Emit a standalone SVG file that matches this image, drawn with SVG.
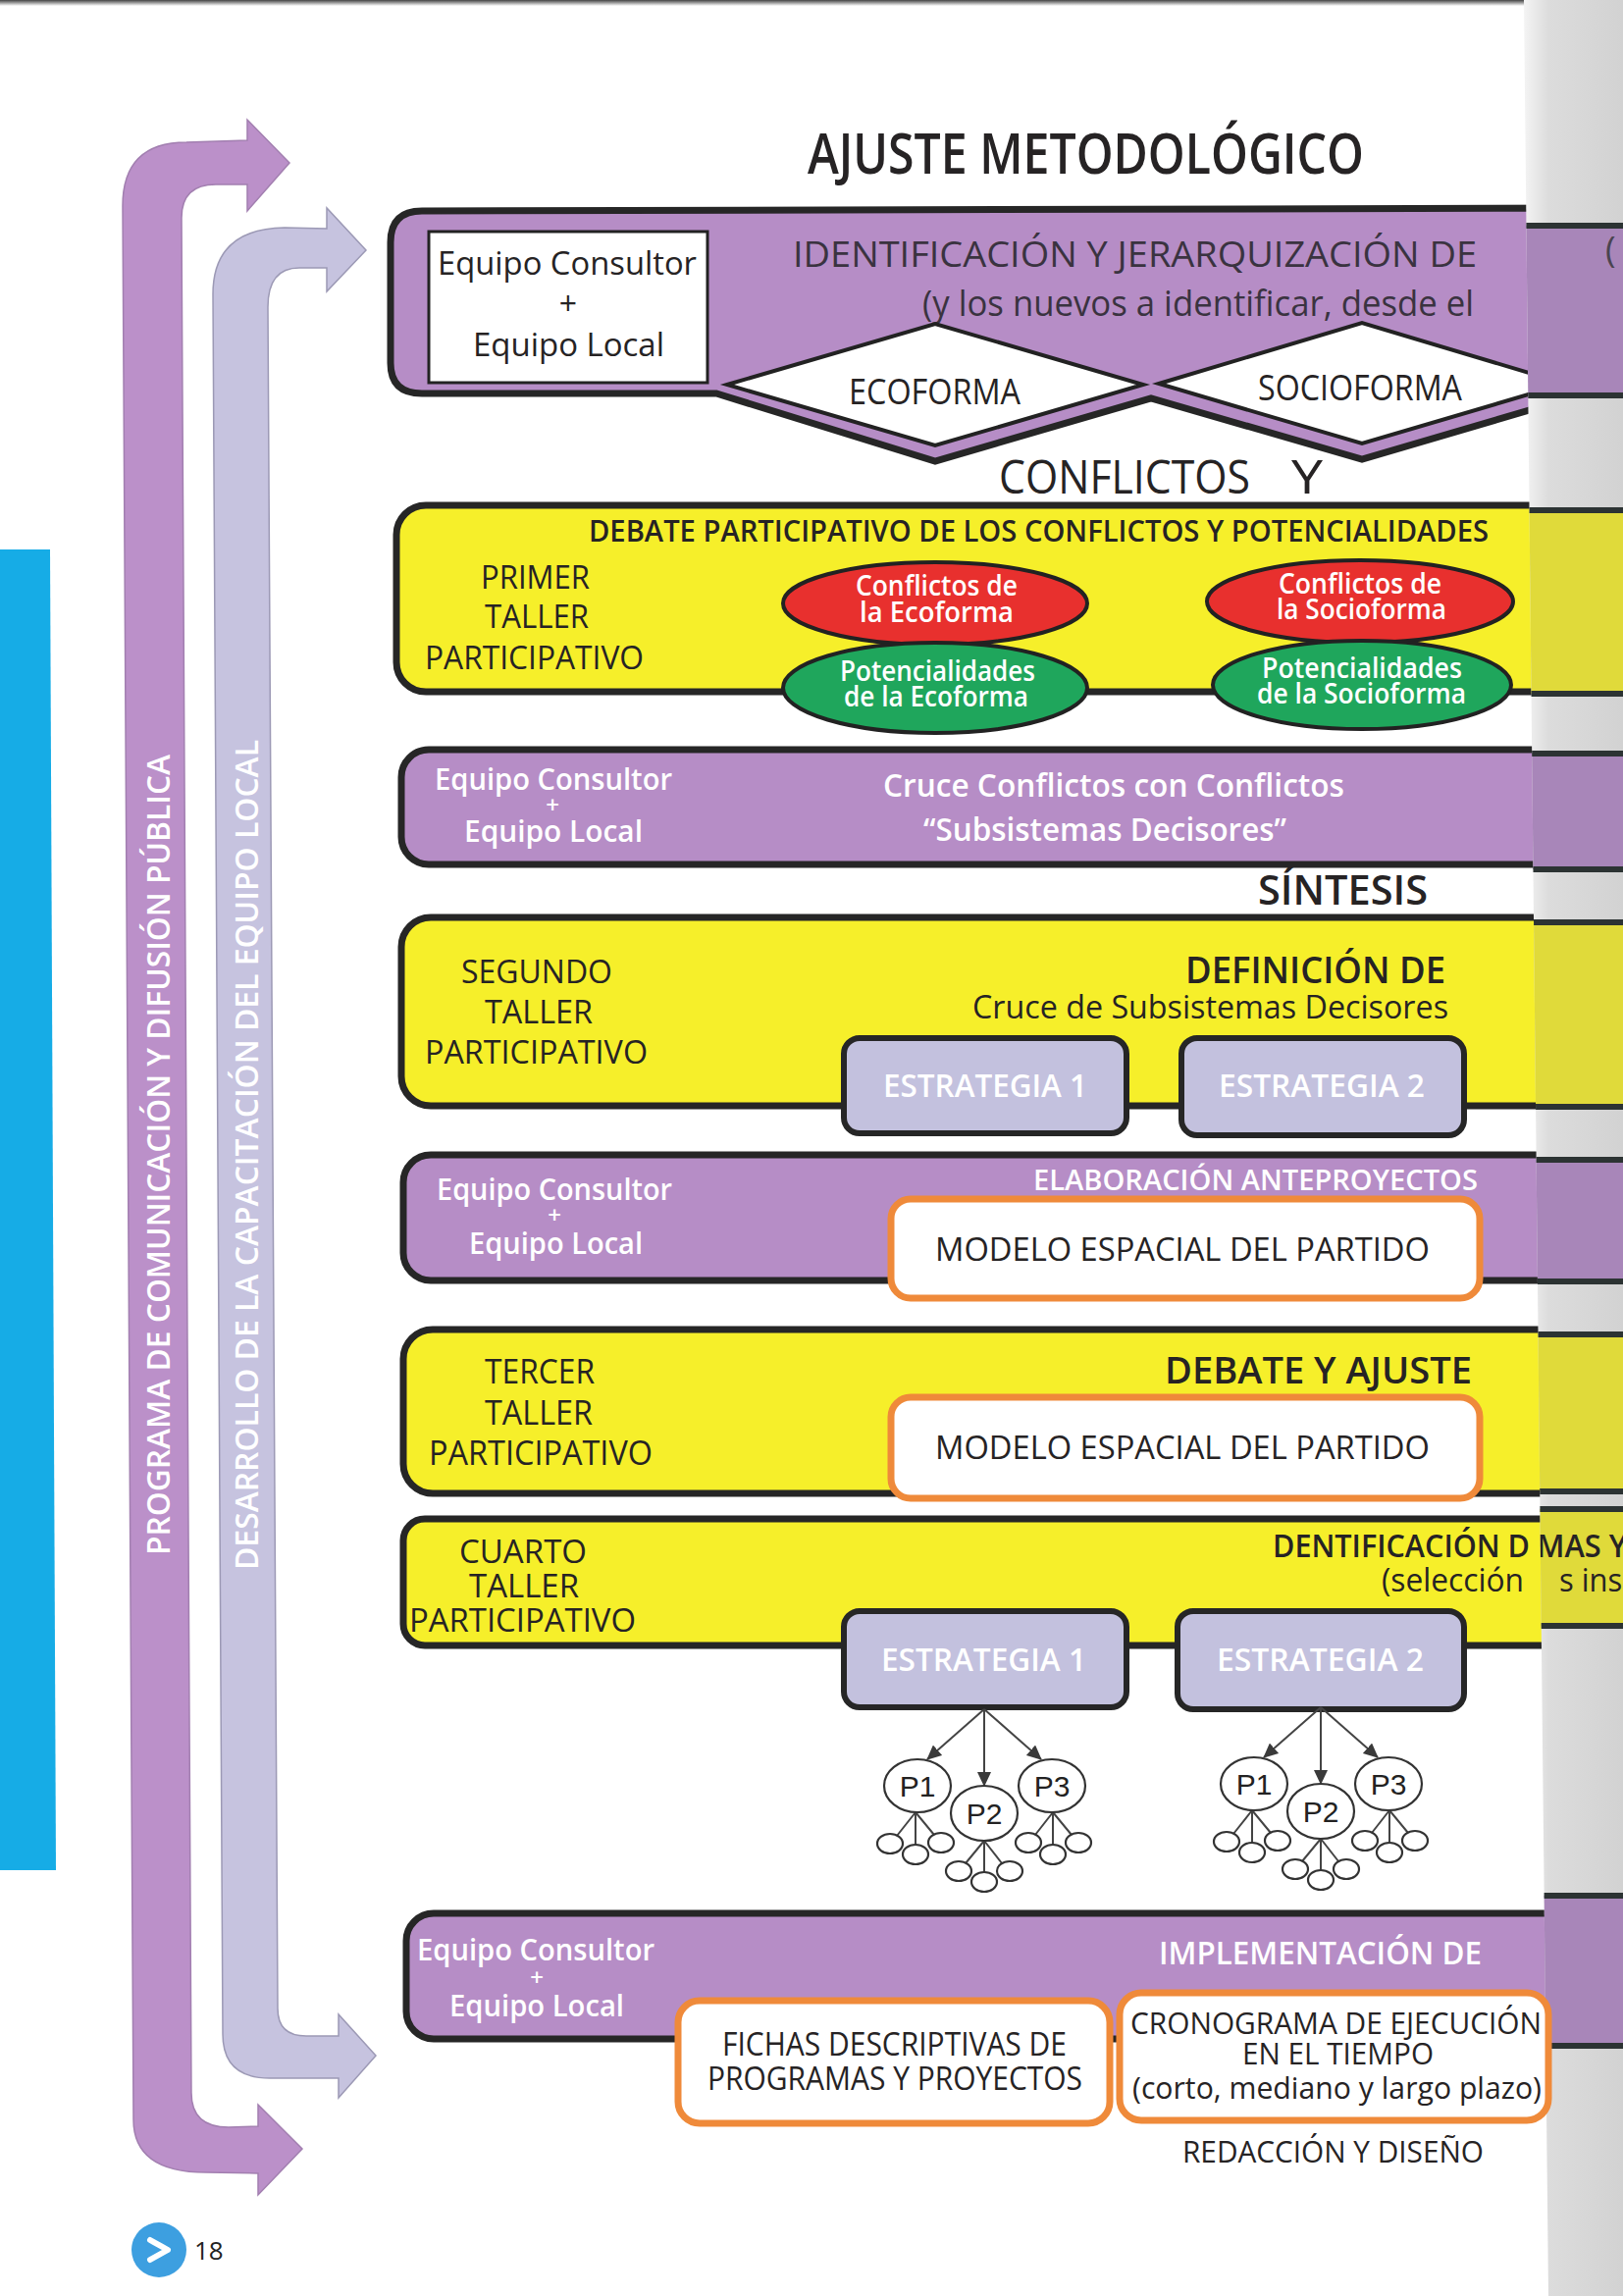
<svg xmlns="http://www.w3.org/2000/svg" width="1654" height="2340" viewBox="0 0 1654 2340">
<style>
text{font-family:"Open Sans","Noto Sans","Liberation Sans",sans-serif;}
.dk{fill:#262324;}
.wt{fill:#ffffff;font-weight:600;}
.md{font-weight:600;}
.band{stroke:#262626;stroke-width:7;}
.pur{fill:#b68dc6;}
.yel{fill:#f6ef2a;}
.est{fill:#c3c1de;stroke:#262626;stroke-width:6;}
.org{fill:#ffffff;stroke:#ef8a3a;stroke-width:7;}
.tr{fill:#ffffff;stroke:#333;stroke-width:2.2;}
.ln{stroke:#444;stroke-width:2;fill:none;}
.pt{font-family:"Liberation Sans",Arial,sans-serif;font-size:30px;fill:#222;text-anchor:middle;}
</style>
<defs>
<marker id="ah" markerUnits="userSpaceOnUse" markerWidth="16" markerHeight="14" refX="14" refY="7" orient="auto">
<path d="M0,0 L15,7 L0,14 Z" fill="#3a3a3a"/>
</marker>
<linearGradient id="strip" x1="0" y1="0" x2="1" y2="0">
<stop offset="0" stop-color="#f4f4f4"/>
<stop offset="0.25" stop-color="#dcdcdc"/>
<stop offset="1" stop-color="#d2d2d2"/>
</linearGradient>
<linearGradient id="topline" x1="0" y1="0" x2="0" y2="1">
<stop offset="0" stop-color="#444"/>
<stop offset="1" stop-color="#444" stop-opacity="0"/>
</linearGradient>
<clipPath id="stripclip"><polygon points="1553,0 1654,0 1654,2340 1578,2340"/></clipPath>
</defs>

<rect x="0" y="0" width="1654" height="2340" fill="#ffffff"/>
<rect x="0" y="0" width="1654" height="6" fill="url(#topline)"/>

<!-- cyan bar -->
<g id="cyan-bar"><polygon points="0,560 51,560 57,1906 0,1906" fill="#16ace6"/></g>

<!-- side arrows -->
<g id="arrow-programa">
<path d="M125,210 Q125,145 190,145 L252,143 L252,122 L295,166 L252,215 L252,188 L220,188 Q185,188 185,222 L195,2133 Q195,2168 233,2168 L263,2167 L263,2145 L308,2190 L263,2237 L263,2215 L210,2214 Q136,2214 136,2160 Z" fill="#bb90c9" stroke="#a27fb0" stroke-width="1.5"/>
<text class="wt" font-size="33" transform="translate(173,1585) rotate(-90)" textLength="816" lengthAdjust="spacingAndGlyphs">PROGRAMA DE COMUNICACIÓN Y DIFUSIÓN PÚBLICA</text>
</g>
<g id="arrow-desarrollo">
<path d="M217,300 Q217,233 290,232 L333,233 L333,212 L373,255 L333,297 L333,273 L305,273 Q273,273 273,313 L283,2047 Q283,2075 312,2075 L345,2075 L345,2053 L383,2095 L345,2138 L345,2118 L275,2118 Q227,2118 227,2073 Z" fill="#c6c3df" stroke="#9c99b5" stroke-width="1.5"/>
<text class="wt" font-size="33" transform="translate(263,1600) rotate(-90)" textLength="846" lengthAdjust="spacingAndGlyphs">DESARROLLO DE LA CAPACITACIÓN DEL EQUIPO LOCAL</text>
</g>

<!-- title -->
<g id="title"><text class="dk md" x="823" y="177" font-size="57" textLength="567" lengthAdjust="spacingAndGlyphs">AJUSTE METODOLÓGICO</text></g>

<!-- band 1 -->
<g id="band-identificacion">
<path class="band pur" d="M430,215 L1620,212 L1620,400 L1388,468 L1173,406 L953,470 L730,401 L430,401 Q398,401 398,370 L398,247 Q398,215 430,215 Z"/>
<rect x="437" y="236" width="284" height="154" fill="#ffffff" stroke="#222" stroke-width="3"/>
<text class="dk" x="446" y="280" font-size="32" textLength="264" lengthAdjust="spacingAndGlyphs">Equipo Consultor</text>
<text class="dk" x="579" y="321" font-size="32" text-anchor="middle">+</text>
<text class="dk" x="482" y="363" font-size="32" textLength="195" lengthAdjust="spacingAndGlyphs">Equipo Local</text>
<text x="808" y="272" font-size="36" fill="#3a3340" textLength="697" lengthAdjust="spacingAndGlyphs">IDENTIFICACIÓN Y JERARQUIZACIÓN DE</text>
<text x="940" y="322" font-size="36" fill="#3a3340" textLength="562" lengthAdjust="spacingAndGlyphs">(y los nuevos a identificar, desde el</text>
</g>
<g id="node-ecoforma">
<polygon points="741,392 953,330 1165,392 953,454" fill="#ffffff" stroke="#222" stroke-width="4"/>
<text class="dk" x="865" y="412" font-size="36" textLength="175" lengthAdjust="spacingAndGlyphs">ECOFORMA</text>
</g>
<g id="node-socioforma">
<polygon points="1181,391 1388,329 1595,391 1388,452" fill="#ffffff" stroke="#222" stroke-width="4"/>
<text class="dk" x="1282" y="408" font-size="36" textLength="208" lengthAdjust="spacingAndGlyphs">SOCIOFORMA</text>
</g>

<g id="label-conflictos">
<text class="dk" x="1018" y="503" font-size="48" textLength="256" lengthAdjust="spacingAndGlyphs">CONFLICTOS</text>
<text class="dk" x="1316" y="503" font-size="48" textLength="32" lengthAdjust="spacingAndGlyphs">Y</text>
</g>

<!-- band 2 -->
<g id="band-primer-taller">
<rect class="band yel" x="404" y="515" width="1300" height="190" rx="30"/>
<text class="dk md" x="600" y="552" font-size="31" textLength="917" lengthAdjust="spacingAndGlyphs">DEBATE PARTICIPATIVO DE LOS CONFLICTOS Y POTENCIALIDADES</text>
<text class="dk" x="490" y="600" font-size="33" textLength="111" lengthAdjust="spacingAndGlyphs">PRIMER</text>
<text class="dk" x="494" y="640" font-size="33" textLength="106" lengthAdjust="spacingAndGlyphs">TALLER</text>
<text class="dk" x="433" y="682" font-size="33" textLength="223" lengthAdjust="spacingAndGlyphs">PARTICIPATIVO</text>
</g>
<g id="node-conflictos-eco">
<ellipse cx="953" cy="615" rx="155" ry="42" fill="#e8302e" stroke="#222" stroke-width="4"/>
<text class="wt" x="872" y="607" font-size="28" textLength="165" lengthAdjust="spacingAndGlyphs">Conflictos de</text>
<text class="wt" x="876" y="634" font-size="28" textLength="157" lengthAdjust="spacingAndGlyphs">la Ecoforma</text>
</g>
<g id="node-potencial-eco">
<ellipse cx="953" cy="701" rx="155" ry="46" fill="#1fa65c" stroke="#222" stroke-width="4"/>
<text class="wt" x="856" y="694" font-size="28" textLength="199" lengthAdjust="spacingAndGlyphs">Potencialidades</text>
<text class="wt" x="860" y="720" font-size="28" textLength="188" lengthAdjust="spacingAndGlyphs">de la Ecoforma</text>
</g>
<g id="node-conflictos-socio">
<ellipse cx="1386" cy="613" rx="156" ry="42" fill="#e8302e" stroke="#222" stroke-width="4"/>
<text class="wt" x="1303" y="605" font-size="28" textLength="166" lengthAdjust="spacingAndGlyphs">Conflictos de</text>
<text class="wt" x="1301" y="631" font-size="28" textLength="173" lengthAdjust="spacingAndGlyphs">la Socioforma</text>
</g>
<g id="node-potencial-socio">
<ellipse cx="1388" cy="698" rx="152" ry="45" fill="#1fa65c" stroke="#222" stroke-width="4"/>
<text class="wt" x="1286" y="691" font-size="28" textLength="204" lengthAdjust="spacingAndGlyphs">Potencialidades</text>
<text class="wt" x="1281" y="717" font-size="28" textLength="213" lengthAdjust="spacingAndGlyphs">de la Socioforma</text>
</g>

<!-- band 3 -->
<g id="band-cruce">
<rect class="band pur" x="409" y="764" width="1300" height="117" rx="28"/>
<text class="wt" x="443" y="805" font-size="30" textLength="242" lengthAdjust="spacingAndGlyphs">Equipo Consultor</text>
<text class="wt" x="563" y="829" font-size="24" text-anchor="middle">+</text>
<text class="wt" x="473" y="858" font-size="30" textLength="182" lengthAdjust="spacingAndGlyphs">Equipo Local</text>
<text class="wt" x="900" y="812" font-size="33" textLength="470" lengthAdjust="spacingAndGlyphs">Cruce Conflictos con Conflictos</text>
<text class="wt" x="941" y="857" font-size="33" textLength="370" lengthAdjust="spacingAndGlyphs">“Subsistemas Decisores”</text>
</g>

<g id="label-sintesis"><text class="dk md" x="1282" y="922" font-size="42" textLength="173" lengthAdjust="spacingAndGlyphs">SÍNTESIS</text></g>

<!-- band 4 -->
<g id="band-segundo-taller">
<rect class="band yel" x="409" y="935" width="1300" height="192" rx="30"/>
<text class="dk" x="470" y="1002" font-size="33" textLength="154" lengthAdjust="spacingAndGlyphs">SEGUNDO</text>
<text class="dk" x="494" y="1043" font-size="33" textLength="110" lengthAdjust="spacingAndGlyphs">TALLER</text>
<text class="dk" x="433" y="1084" font-size="33" textLength="227" lengthAdjust="spacingAndGlyphs">PARTICIPATIVO</text>
<text class="dk md" x="1208" y="1002" font-size="37" textLength="265" lengthAdjust="spacingAndGlyphs">DEFINICIÓN DE</text>
<text class="dk" x="991" y="1038" font-size="32" textLength="485" lengthAdjust="spacingAndGlyphs">Cruce de Subsistemas Decisores</text>
</g>
<g id="node-estrategia1-a">
<rect class="est" x="860" y="1058" width="288" height="97" rx="16"/>
<text class="wt" x="900" y="1118" font-size="33" textLength="208" lengthAdjust="spacingAndGlyphs">ESTRATEGIA 1</text>
</g>
<g id="node-estrategia2-a">
<rect class="est" x="1204" y="1058" width="288" height="99" rx="16"/>
<text class="wt" x="1242" y="1118" font-size="33" textLength="210" lengthAdjust="spacingAndGlyphs">ESTRATEGIA 2</text>
</g>

<!-- band 5 -->
<g id="band-elaboracion">
<rect class="band pur" x="411" y="1177" width="1300" height="128" rx="28"/>
<text class="wt" x="445" y="1223" font-size="30" textLength="240" lengthAdjust="spacingAndGlyphs">Equipo Consultor</text>
<text class="wt" x="565" y="1247" font-size="24" text-anchor="middle">+</text>
<text class="wt" x="478" y="1278" font-size="30" textLength="177" lengthAdjust="spacingAndGlyphs">Equipo Local</text>
<text class="wt" x="1053" y="1213" font-size="29" textLength="453" lengthAdjust="spacingAndGlyphs">ELABORACIÓN ANTEPROYECTOS</text>
</g>
<g id="node-modelo-a">
<rect class="org" x="908" y="1222" width="600" height="101" rx="20"/>
<text class="dk" x="953" y="1285" font-size="33" textLength="504" lengthAdjust="spacingAndGlyphs">MODELO ESPACIAL DEL PARTIDO</text>
</g>

<!-- band 6 -->
<g id="band-tercer-taller">
<rect class="band yel" x="411" y="1355" width="1300" height="167" rx="30"/>
<text class="dk" x="494" y="1410" font-size="34" textLength="112" lengthAdjust="spacingAndGlyphs">TERCER</text>
<text class="dk" x="494" y="1452" font-size="34" textLength="110" lengthAdjust="spacingAndGlyphs">TALLER</text>
<text class="dk" x="437" y="1493" font-size="34" textLength="228" lengthAdjust="spacingAndGlyphs">PARTICIPATIVO</text>
<text class="dk md" x="1187" y="1410" font-size="37" textLength="313" lengthAdjust="spacingAndGlyphs">DEBATE Y AJUSTE</text>
</g>
<g id="node-modelo-b">
<rect class="org" x="908" y="1424" width="600" height="103" rx="20"/>
<text class="dk" x="953" y="1487" font-size="33" textLength="504" lengthAdjust="spacingAndGlyphs">MODELO ESPACIAL DEL PARTIDO</text>
</g>

<!-- band 7 -->
<g id="band-cuarto-taller">
<rect class="band yel" x="411" y="1548" width="1300" height="129" rx="22"/>
<text class="dk" x="468" y="1593" font-size="33" textLength="130" lengthAdjust="spacingAndGlyphs">CUARTO</text>
<text class="dk" x="478" y="1628" font-size="33" textLength="112" lengthAdjust="spacingAndGlyphs">TALLER</text>
<text class="dk" x="417" y="1663" font-size="33" textLength="231" lengthAdjust="spacingAndGlyphs">PARTICIPATIVO</text>
<text class="dk md" x="1297" y="1587" font-size="33" textLength="262" lengthAdjust="spacingAndGlyphs">DENTIFICACIÓN D</text>
<text class="dk" x="1408" y="1622" font-size="33" textLength="145" lengthAdjust="spacingAndGlyphs">(selección</text>
</g>
<g id="node-estrategia1-b">
<rect class="est" x="860" y="1642" width="288" height="98" rx="16"/>
<text class="wt" x="898" y="1703" font-size="33" textLength="209" lengthAdjust="spacingAndGlyphs">ESTRATEGIA 1</text>
</g>
<g id="node-estrategia2-b">
<rect class="est" x="1200" y="1642" width="292" height="100" rx="16"/>
<text class="wt" x="1240" y="1703" font-size="33" textLength="211" lengthAdjust="spacingAndGlyphs">ESTRATEGIA 2</text>
</g>

<!-- connectors of project trees -->
<g id="connectors">
<g id="tree1-lines">
<line class="ln" x1="1003" y1="1742" x2="945" y2="1793" marker-end="url(#ah)"/>
<line class="ln" x1="1003" y1="1742" x2="1003" y2="1820" marker-end="url(#ah)"/>
<line class="ln" x1="1003" y1="1742" x2="1061" y2="1793" marker-end="url(#ah)"/>
<path class="ln" d="M933,1847 L914,1871 M933,1847 L933,1880 M933,1847 L952,1870"/>
<path class="ln" d="M1003,1876 L984,1899 M1003,1876 L1003,1908 M1003,1876 L1021,1899"/>
<path class="ln" d="M1073,1847 L1055,1870 M1073,1847 L1073,1880 M1073,1847 L1092,1870"/>
</g>
<g id="tree2-lines" transform="translate(343,-2)">
<line class="ln" x1="1003" y1="1742" x2="945" y2="1793" marker-end="url(#ah)"/>
<line class="ln" x1="1003" y1="1742" x2="1003" y2="1820" marker-end="url(#ah)"/>
<line class="ln" x1="1003" y1="1742" x2="1061" y2="1793" marker-end="url(#ah)"/>
<path class="ln" d="M933,1847 L914,1871 M933,1847 L933,1880 M933,1847 L952,1870"/>
<path class="ln" d="M1003,1876 L984,1899 M1003,1876 L1003,1908 M1003,1876 L1021,1899"/>
<path class="ln" d="M1073,1847 L1055,1870 M1073,1847 L1073,1880 M1073,1847 L1092,1870"/>
</g>
</g>

<g id="tree1-nodes">
<g id="t1-p1"><ellipse class="tr" cx="935" cy="1820" rx="34" ry="27"/><text class="pt" x="935" y="1831">P1</text></g>
<g id="t1-p2"><ellipse class="tr" cx="1003" cy="1848" rx="34" ry="28"/><text class="pt" x="1003" y="1859">P2</text></g>
<g id="t1-p3"><ellipse class="tr" cx="1072" cy="1820" rx="34" ry="27"/><text class="pt" x="1072" y="1831">P3</text></g>
<g id="t1-sub">
<ellipse class="tr" cx="907" cy="1879" rx="13" ry="10"/><ellipse class="tr" cx="933" cy="1890" rx="13" ry="10"/><ellipse class="tr" cx="959" cy="1878" rx="13" ry="10"/>
<ellipse class="tr" cx="977" cy="1907" rx="13" ry="10"/><ellipse class="tr" cx="1003" cy="1918" rx="13" ry="10"/><ellipse class="tr" cx="1029" cy="1907" rx="13" ry="10"/>
<ellipse class="tr" cx="1048" cy="1878" rx="13" ry="10"/><ellipse class="tr" cx="1073" cy="1890" rx="13" ry="10"/><ellipse class="tr" cx="1099" cy="1878" rx="13" ry="10"/>
</g>
</g>
<g id="tree2-nodes" transform="translate(343,-2)">
<g id="t2-p1"><ellipse class="tr" cx="935" cy="1820" rx="34" ry="27"/><text class="pt" x="935" y="1831">P1</text></g>
<g id="t2-p2"><ellipse class="tr" cx="1003" cy="1848" rx="34" ry="28"/><text class="pt" x="1003" y="1859">P2</text></g>
<g id="t2-p3"><ellipse class="tr" cx="1072" cy="1820" rx="34" ry="27"/><text class="pt" x="1072" y="1831">P3</text></g>
<g id="t2-sub">
<ellipse class="tr" cx="907" cy="1879" rx="13" ry="10"/><ellipse class="tr" cx="933" cy="1890" rx="13" ry="10"/><ellipse class="tr" cx="959" cy="1878" rx="13" ry="10"/>
<ellipse class="tr" cx="977" cy="1907" rx="13" ry="10"/><ellipse class="tr" cx="1003" cy="1918" rx="13" ry="10"/><ellipse class="tr" cx="1029" cy="1907" rx="13" ry="10"/>
<ellipse class="tr" cx="1048" cy="1878" rx="13" ry="10"/><ellipse class="tr" cx="1073" cy="1890" rx="13" ry="10"/><ellipse class="tr" cx="1099" cy="1878" rx="13" ry="10"/>
</g>
</g>

<!-- band 8 -->
<g id="band-implementacion">
<rect class="band pur" x="414" y="1950" width="1300" height="128" rx="28"/>
<text class="wt" x="425" y="1998" font-size="30" textLength="242" lengthAdjust="spacingAndGlyphs">Equipo Consultor</text>
<text class="wt" x="547" y="2024" font-size="24" text-anchor="middle">+</text>
<text class="wt" x="458" y="2055" font-size="30" textLength="178" lengthAdjust="spacingAndGlyphs">Equipo Local</text>
<text class="wt" x="1181" y="2002" font-size="32" textLength="329" lengthAdjust="spacingAndGlyphs">IMPLEMENTACIÓN DE</text>
</g>
<g id="node-fichas">
<rect class="org" x="691" y="2039" width="440" height="125" rx="22"/>
<text class="dk" x="736" y="2095" font-size="32" textLength="351" lengthAdjust="spacingAndGlyphs">FICHAS DESCRIPTIVAS DE</text>
<text class="dk" x="721" y="2130" font-size="32" textLength="382" lengthAdjust="spacingAndGlyphs">PROGRAMAS Y PROYECTOS</text>
</g>

<!-- right page strip -->
<g id="next-page-strip">
<polygon points="1553,0 1654,0 1654,2340 1578,2340" fill="url(#strip)"/>
<g clip-path="url(#stripclip)" stroke="#2c3333" stroke-width="6">
<rect x="1540" y="230" width="130" height="173" fill="#a886b9"/>
<rect x="1540" y="520" width="130" height="187" fill="#e0da3a"/>
<rect x="1540" y="768" width="130" height="118" fill="#a886b9"/>
<rect x="1540" y="940" width="130" height="188" fill="#e0da3a"/>
<rect x="1540" y="1182" width="130" height="124" fill="#a886b9"/>
<rect x="1540" y="1360" width="130" height="160" fill="#e0da3a"/>
<rect x="1540" y="1538" width="130" height="119" fill="#e0da3a"/>
<rect x="1540" y="1932" width="130" height="153" fill="#a886b9"/>
</g>
<g clip-path="url(#stripclip)">
<text x="1636" y="267" font-size="36" fill="#4a4450">(</text>
<text class="dk md" x="1566" y="1587" font-size="33" textLength="92" lengthAdjust="spacingAndGlyphs">MAS Y</text>
<text class="dk" x="1589" y="1622" font-size="33" textLength="72" lengthAdjust="spacingAndGlyphs">s insi</text>
</g>
</g>

<g id="node-cronograma">
<rect class="org" x="1141" y="2031" width="437" height="130" rx="22"/>
<text class="dk" x="1152" y="2073" font-size="31" textLength="419" lengthAdjust="spacingAndGlyphs">CRONOGRAMA DE EJECUCIÓN</text>
<text class="dk" x="1266" y="2104" font-size="31" textLength="195" lengthAdjust="spacingAndGlyphs">EN EL TIEMPO</text>
<text class="dk" x="1154" y="2139" font-size="31" textLength="417" lengthAdjust="spacingAndGlyphs">(corto, mediano y largo plazo)</text>
</g>

<g id="label-redaccion"><text class="dk" x="1205" y="2204" font-size="31" textLength="307" lengthAdjust="spacingAndGlyphs">REDACCIÓN Y DISEÑO</text></g>

<!-- page number -->
<g id="page-number">
<circle cx="162" cy="2293" r="28" fill="#3d9fe0"/>
<polyline points="153,2283 171,2293 153,2303" fill="none" stroke="#ffffff" stroke-width="6" stroke-linejoin="round" stroke-linecap="round"/>
<text x="198" y="2303" font-size="26" fill="#222" font-family="Liberation Sans, Arial, sans-serif">18</text>
</g>
</svg>
